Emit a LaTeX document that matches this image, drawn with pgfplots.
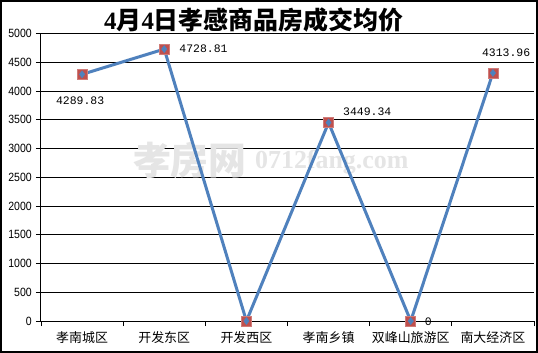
\documentclass[border=0pt]{standalone}
\usepackage{fontspec}
\setmainfont{Liberation Sans}
\newfontfamily\cjk{Noto Sans CJK SC}
\newfontfamily\mono{Liberation Mono}
\newfontfamily\serifb{Liberation Serif}
\newfontfamily\narrow{Liberation Sans}[FakeStretch=0.88]
\usepackage{pgfplots}
\pgfplotsset{compat=1.18}
\definecolor{lineblue}{HTML}{4F81BD}
\definecolor{markred}{HTML}{C0504D}
\begin{document}
\begin{tikzpicture}
\fill[white] (-41bp,-32bp) rectangle (497bp,321bp);
\begin{axis}[
  at={(0,0)}, anchor=south west,
  scale only axis, width=493bp, height=287.5bp,
  xmin=0, xmax=6, ymin=0, ymax=5000,
  axis lines*=left,
  axis line style={black, line width=1bp},
  ytick={0,500,...,5000},
  ymajorgrids, grid style={black, line width=0.8bp},
  xtick={0,1,...,6},
  x tick label as interval,
  xticklabels={孝南城区,开发东区,开发西区,孝南乡镇,双峰山旅游区,南大经济区},
  tick align=outside, major tick length=5bp,
  tick style={black, line width=0.8bp},
  scaled y ticks=false,
  /pgf/number format/1000 sep={},
  /pgf/number format/assume math mode=true,
  yticklabel style={font=\narrow\fontsize{12}{12}\selectfont, inner sep=0pt, xshift=-4bp},
  xticklabel style={font=\cjk\fontsize{13}{13}\selectfont, inner sep=0pt, yshift=-5bp},
  clip=false,
]
\node[text=black!10, font=\cjk\bfseries\fontsize{38}{38}\selectfont, inner sep=0pt] at (rel axis cs:0.302,0.56) {孝房网};
\node[text=black!10, font=\serifb\bfseries\fontsize{26}{26}\selectfont, inner sep=0pt, anchor=base west] at (rel axis cs:0.434,0.529) {0712fang.com};
\addplot[only marks, mark=square*, mark size=5bp, mark options={fill=markred, draw=markred!75!white, line width=0.6bp}]
  coordinates {(0.5,4289.83) (1.5,4728.81) (2.5,0) (3.5,3449.34) (4.5,0) (5.5,4313.96)};
\addplot[lineblue, line width=3bp, line join=round, mark=diamond*, mark size=3.6bp, mark options={fill=lineblue, draw=lineblue, line width=0.4bp}]
  coordinates {(0.5,4289.83) (1.5,4728.81) (2.5,0) (3.5,3449.34) (4.5,0) (5.5,4313.96)};
\tikzset{dl/.style={font=\mono\fontsize{11.5}{11.5}\selectfont, inner sep=0pt}}
\node[dl, xshift=-2bp, yshift=-26.7bp] at (axis cs:0.5,4289.83) {4289.83};
\node[dl, anchor=west, xshift=15bp] at (axis cs:1.5,4728.81) {4728.81};
\node[dl, anchor=west, xshift=14.4bp, yshift=10.7bp] at (axis cs:3.5,3449.34) {3449.34};
\node[dl, anchor=west, xshift=14bp, yshift=-1bp] at (axis cs:4.5,0) {0};
\node[dl, anchor=west, xshift=-11bp, yshift=20bp] at (axis cs:5.5,4313.96) {4313.96};
\end{axis}
\node[inner sep=0pt, font=\fontsize{25}{25}\selectfont] at (212.6bp,301bp)
  {{\serifb\bfseries 4}{\cjk\bfseries 月}{\serifb\bfseries 4}{\cjk\bfseries 日孝感商品房成交均价}};
\draw[line width=2.5bp] (-39.75bp,-30.75bp) rectangle (495.75bp,319.75bp);
\pgfresetboundingbox
\path[use as bounding box] (-41bp,-32bp) rectangle (497bp,321bp);
\end{tikzpicture}
\end{document}
